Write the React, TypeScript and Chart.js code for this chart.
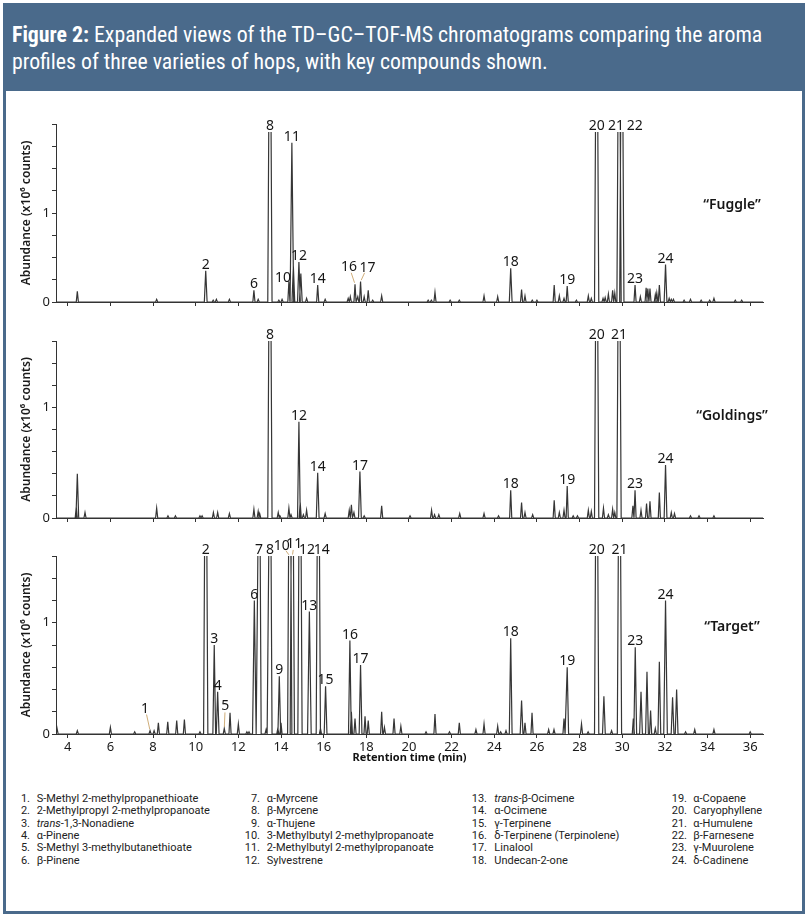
import React, { useEffect, useRef } from 'react';
import { Chart, registerables } from 'chart.js';

Chart.register(...registerables);

// ---------------- DATA ----------------
const X_MIN = 3.45;
const X_MAX = 36.6;
const xTickValues = [4, 6, 8, 10, 12, 14, 16, 18, 20, 22, 24, 26, 28, 30, 32, 34, 36];

// "Fuggle" — retention time (min) and abundance (x10^6 counts)
const fuggleRt = [4.45, 8.17, 10.47, 10.82, 10.97, 11.58, 12.73, 12.93, 13.48, 13.9, 14.05, 14.37, 14.51, 14.58, 14.84, 14.93, 15.2, 15.72, 16.07, 17.15, 17.25, 17.47, 17.6, 17.73, 17.9, 18.09, 18.3, 18.72,
  20.9, 21.05, 21.22, 21.93, 22.36, 23.52, 24.16, 24.77, 25.28, 25.44, 25.78, 26.0, 26.81, 27.05, 27.27, 27.42, 27.85, 28.41, 28.55, 28.8, 29.1, 29.2, 29.35, 29.55, 29.65, 29.85, 29.98, 30.6, 30.85, 31.12, 31.2, 31.3, 31.55, 31.62, 31.74, 32.03, 32.2, 32.3, 32.4, 32.9, 33.2, 33.7, 34.1, 34.3, 35.3, 35.6];
const fuggleHeight = [0.12, 0.03, 0.35, 0.02, 0.03, 0.03, 0.13, 0.03, 2.5, 0.02, 0.03, 0.23, 1.79, 0.4, 0.45, 0.32, 0.04, 0.19, 0.03, 0.04, 0.06, 0.2, 0.06, 0.23, 0.06, 0.13, 0.02, 0.07,
  0.02, 0.02, 0.11, 0.02, 0.02, 0.07, 0.06, 0.38, 0.14, 0.07, 0.02, 0.02, 0.19, 0.07, 0.04, 0.18, 0.02, 0.07, 0.04, 2.5, 0.04, 0.05, 0.09, 0.13, 0.1, 2.5, 2.5, 0.19, 0.06, 0.16, 0.15, 0.15, 0.08, 0.1, 0.19, 0.42, 0.04, 0.03, 0.03, 0.02, 0.03, 0.02, 0.02, 0.04, 0.02, 0.02];
const fuggleLabelIds = ['2', '6', '8', '10', '11', '12', '14', '16', '17', '18', '19', '20', '21', '22', '23', '24'];
const fuggleLabelRt = [10.47, 12.73, 13.48, 14.37, 14.51, 14.84, 15.72, 17.47, 17.73, 24.77, 27.42, 28.8, 29.85, 29.98, 30.6, 32.03];

// "Goldings"
const goldingsRt = [4.4, 4.45, 4.81, 8.17, 8.7, 9.05, 10.2, 10.3, 10.83, 11.03, 11.58, 12.73, 12.93, 13.0, 13.48, 13.87, 13.95, 14.37, 14.47, 14.84, 14.9, 15.05, 15.2, 15.72, 16.07, 17.2, 17.3, 17.42, 17.7, 17.9, 18.72,
  20.05, 21.06, 21.2, 21.4, 22.38, 23.52, 24.2, 24.77, 25.28, 25.44, 25.8, 26.81, 27.05, 27.27, 27.42, 27.7, 27.9, 28.41, 28.55, 28.8, 29.12, 29.35, 29.55, 29.65, 29.85, 30.5, 30.6, 30.88, 31.14, 31.3, 31.74, 32.03, 32.3, 32.45, 33.2, 33.6, 34.3];
const goldingsHeight = [0.1, 0.4, 0.05, 0.09, 0.02, 0.02, 0.02, 0.02, 0.05, 0.05, 0.04, 0.08, 0.06, 0.04, 2.5, 0.05, 0.02, 0.09, 0.03, 0.87, 0.14, 0.03, 0.07, 0.41, 0.04, 0.07, 0.12, 0.05, 0.42, 0.02, 0.11,
  0.02, 0.07, 0.03, 0.03, 0.04, 0.04, 0.02, 0.25, 0.14, 0.05, 0.03, 0.16, 0.05, 0.07, 0.29, 0.02, 0.02, 0.07, 0.06, 2.5, 0.09, 0.03, 0.08, 0.05, 2.5, 0.11, 0.25, 0.07, 0.13, 0.15, 0.23, 0.48, 0.05, 0.04, 0.02, 0.02, 0.02];
const goldingsLabelIds = ['8', '12', '14', '17', '18', '19', '20', '21', '23', '24'];
const goldingsLabelRt = [13.48, 14.84, 15.72, 17.7, 24.77, 27.42, 28.8, 29.85, 30.6, 32.03];

// "Target"
const targetRt = [3.5, 4.45, 6.0, 7.14, 7.86, 8.05, 8.25, 8.69, 9.11, 9.47, 10.2, 10.47, 10.87, 11.03, 11.34, 11.61, 12.0, 12.4, 12.5, 12.75, 12.97, 13.3, 13.48, 13.85, 13.92, 14.0, 14.41, 14.53, 14.89, 15.33, 15.75, 15.85, 16.09, 17.23, 17.3, 17.47, 17.73, 17.94, 18.09, 18.72, 18.85, 19.3, 19.62,
  20.8, 21.22, 21.9, 22.36, 23.14, 23.52, 24.16, 24.3, 24.55, 24.77, 25.28, 25.44, 25.77, 26.55, 26.8, 27.27, 27.42, 28.09, 28.4, 28.8, 29.14, 29.5, 29.87, 30.52, 30.61, 30.88, 31.16, 31.33, 31.55, 31.74, 32.03, 32.36, 32.55, 32.97, 33.4, 34.3, 36.0];
const targetHeight = [0.05, 0.03, 0.06, 0.02, 0.03, 0.03, 0.1, 0.11, 0.12, 0.13, 0.02, 2.5, 0.8, 0.38, 0.05, 0.19, 0.09, 0.02, 0.02, 1.2, 2.5, 0.04, 2.5, 0.05, 0.52, 0.1, 2.5, 2.5, 2.5, 1.1, 2.5, 0.05, 0.43, 0.84, 0.2, 0.14, 0.62, 0.16, 0.12, 0.2, 0.06, 0.14, 0.07,
  0.02, 0.18, 0.02, 0.1, 0.04, 0.09, 0.07, 0.02, 0.03, 0.86, 0.3, 0.1, 0.19, 0.04, 0.04, 0.14, 0.6, 0.09, 0.02, 2.5, 0.34, 0.03, 2.5, 0.14, 0.78, 0.38, 0.56, 0.21, 0.05, 0.65, 1.2, 0.33, 0.4, 0.02, 0.04, 0.04, 0.02];
const targetLabelIds = ['1', '2', '3', '4', '5', '6', '7', '8', '9', '10', '11', '12', '13', '14', '15', '16', '17', '18', '19', '20', '21', '23', '24'];
const targetLabelRt = [7.86, 10.47, 10.87, 11.03, 11.34, 12.75, 12.97, 13.48, 13.92, 14.41, 14.53, 14.89, 15.33, 15.75, 16.09, 17.23, 17.73, 24.77, 27.42, 28.8, 29.87, 30.61, 32.03];

const compoundNames = [
  'S-Methyl 2-methylpropanethioate', '2-Methylpropyl 2-methylpropanoate', 'trans-1,3-Nonadiene', 'α-Pinene', 'S-Methyl 3-methylbutanethioate', 'β-Pinene',
  'α-Myrcene', 'β-Myrcene', 'α-Thujene', '3-Methylbutyl 2-methylpropanoate', '2-Methylbutyl 2-methylpropanoate', 'Sylvestrene',
  'trans-β-Ocimene', 'α-Ocimene', 'γ-Terpinene', 'δ-Terpinene (Terpinolene)', 'Linalool', 'Undecan-2-one',
  'α-Copaene', 'Caryophyllene', 'α-Humulene', 'β-Farnesene', 'γ-Muurolene', 'δ-Cadinene',
];

// ---------------- STYLE ----------------
const BLUE = '#4a6a8b';
const FONT = '"Noto Sans", "DejaVu Sans", sans-serif';
const LINE = '#363636';
const LEADER = '#c9a46a';

Chart.defaults.font.family = FONT;

function buildTrace(rt: number[], h: number[], clip: number) {
  const pts: { x: number; y: number | null }[] = [{ x: X_MIN, y: 0 }];
  const order = rt.map((_, i) => i).sort((a, b) => rt[a] - rt[b]);
  for (const i of order) {
    const t = rt[i];
    const v = h[i];
    if (v >= clip) {
      pts.push({ x: t - 0.1, y: 0 }, { x: t - 0.055, y: clip }, { x: t, y: null }, { x: t + 0.055, y: clip }, { x: t + 0.1, y: 0 });
    } else {
      const w = v >= 1 ? 0.085 : v >= 0.3 ? 0.065 : 0.05;
      pts.push({ x: t - w, y: 0 }, { x: t, y: v }, { x: t + w, y: 0 });
    }
  }
  pts.push({ x: X_MAX, y: 0 });
  return pts;
}

const peakLabelPlugin = {
  id: 'peakLabels',
  afterDatasetsDraw(chart: any, _args: any, opts: any) {
    const { ctx, scales, chartArea } = chart;
    const xs = scales.x;
    const ys = scales.y;
    ctx.save();
    ctx.font = `14px ${FONT}`;
    ctx.fillStyle = '#161616';
    ctx.textAlign = 'center';
    ctx.textBaseline = 'alphabetic';
    opts.ids.forEach((id: string, k: number) => {
      const t = opts.labelRt[k];
      const idx = opts.rt.findIndex((r: number) => Math.abs(r - t) < 1e-6);
      const h = idx >= 0 ? opts.height[idx] : 0;
      const px = xs.getPixelForValue(t);
      const top = ys.getPixelForValue(Math.min(h, opts.clip));
      const n = opts.nudge[id] || [0, 0, 0];
      const lx = px + n[0];
      const ly = top - 2 + n[1];
      ctx.fillText(id, lx, ly);
      if (n[2]) {
        const cx = lx, cy = ly - 5;
        const dx = px - cx, dy = top - cy;
        const len = Math.hypot(dx, dy) || 1;
        const ux = dx / len, uy = dy / len;
        ctx.beginPath();
        ctx.strokeStyle = LEADER;
        ctx.lineWidth = 0.9;
        ctx.moveTo(cx + ux * 7, cy + uy * 7);
        ctx.lineTo(px - ux * 1.5, top - uy * 1.5);
        ctx.stroke();
      }
    });
    ctx.font = `600 14px ${FONT}`;
    ctx.textBaseline = 'middle';
    ctx.fillStyle = '#161616';
    ctx.fillText(opts.name, chartArea.right - 31, ys.getPixelForValue(opts.nameY));
    ctx.restore();
  },
};

type PanelProps = {
  rt: number[]; height: number[]; ids: string[]; labelRt: number[];
  name: string; nameY: number; yMax: number; step: number; clip: number;
  top: number; canvasH: number; padTop: number; padBottom: number; xH: number;
  showX: boolean; nudge: Record<string, number[]>;
};

function Panel(p: PanelProps) {
  const ref = useRef<HTMLCanvasElement | null>(null);
  useEffect(() => {
    if (!ref.current) return;
    const chart = new Chart(ref.current, {
      type: 'line',
      data: {
        datasets: [{
          data: buildTrace(p.rt, p.height, p.clip) as any,
          borderColor: LINE,
          borderWidth: 1.2,
          pointRadius: 0,
          tension: 0,
          fill: false,
          spanGaps: false,
        }],
      },
      plugins: [peakLabelPlugin],
      options: {
        animation: false,
        responsive: false,
        events: [],
        layout: { padding: { left: 15, right: 45, top: p.padTop, bottom: p.padBottom } },
        plugins: {
          legend: { display: false },
          tooltip: { enabled: false },
          peakLabels: {
            rt: p.rt, height: p.height, ids: p.ids, labelRt: p.labelRt,
            clip: p.clip, name: p.name, nameY: p.nameY, nudge: p.nudge,
          },
        } as any,
        scales: {
          x: {
            type: 'linear',
            min: X_MIN,
            max: X_MAX,
            afterBuildTicks: (s: any) => { s.ticks = xTickValues.map((v) => ({ value: v })); },
            ticks: {
              autoSkip: false,
              maxRotation: 0,
              padding: 1,
              color: '#1a1a1a',
              font: { size: 13 },
              callback: (v: any) => (p.showX ? String(v) : ''),
            },
            grid: { drawOnChartArea: false, tickLength: 4, color: '#333', lineWidth: 1 },
            border: { display: true, color: '#333', width: 1 },
            title: {
              display: p.showX,
              text: 'Retention time (min)',
              color: '#111',
              font: { size: 11, weight: 'bold' },
              padding: { top: 2, bottom: 4 },
            },
            afterFit: (s: any) => { s.height = p.xH; },
          },
          y: {
            min: 0,
            max: p.yMax,
            ticks: {
              stepSize: p.step,
              autoSkip: false,
              padding: 2,
              color: '#1a1a1a',
              font: { size: 13 },
              callback: (v: any) => (Math.abs(v) < 1e-9 ? '0' : Math.abs(v - 1) < 1e-9 ? '1' : ''),
            },
            grid: { drawOnChartArea: false, tickLength: 4, color: '#333', lineWidth: 1 },
            border: { display: true, color: '#333', width: 1 },
            title: {
              display: true,
              text: 'Abundance (x10⁶ counts)',
              color: '#1a1a1a',
              font: { size: 12, weight: '600' },
              padding: { top: 4, bottom: 4 },
            },
            afterFit: (s: any) => { s.width = 41; },
          },
        },
      } as any,
    });
    return () => chart.destroy();
  }, []);
  return (
    <canvas
      ref={ref}
      width={808}
      height={p.canvasH}
      style={{ position: 'absolute', left: 0, top: p.top, width: 808, height: p.canvasH }}
    />
  );
}

function Compound({ name }: { name: string }) {
  if (name.startsWith('trans-')) {
    return (<span><i>trans</i>{name.slice(5)}</span>);
  }
  return <span>{name}</span>;
}

export default function App() {
  const colX = [[30, 36.7], [260, 266.7], [487, 494.3], [687, 693.3]];
  return (
    <div style={{ position: 'absolute', left: 0, top: 0, width: 808, height: 918, background: '#fff', overflow: 'hidden' }}>
      <div style={{ position: 'absolute', left: 3, top: 3, width: 802, height: 911, border: `3px solid ${BLUE}`, boxSizing: 'border-box' }} />
      <div style={{ position: 'absolute', left: 3, top: 3, width: 802, height: 88, background: BLUE }}>
        <div style={{ position: 'absolute', left: 9, top: 18, color: '#fff', fontFamily: '"Roboto Condensed", Roboto, sans-serif', fontSize: 21.8, lineHeight: '27px', whiteSpace: 'nowrap' }}>
          <b>Figure 2:</b> Expanded views of the TD–GC–TOF-MS chromatograms comparing the aroma<br />
          profiles of three varieties of hops, with key compounds shown.
        </div>
      </div>

      <Panel rt={fuggleRt} height={fuggleHeight} ids={fuggleLabelIds} labelRt={fuggleLabelRt}
        name={'“Fuggle”'} nameY={1.09} yMax={2} step={0.25} clip={1.91}
        top={100} canvasH={215} padTop={24} padBottom={5} xH={8} showX={false}
        nudge={{ '10': [-6, 2], '16': [-6, -11, 1], '17': [7, -8, 1], '21': [-3, 0], '22': [13, 0] }} />
      <Panel rt={goldingsRt} height={goldingsHeight} ids={goldingsLabelIds} labelRt={goldingsLabelRt}
        name={'“Goldings”'} nameY={0.92} yMax={1.6} step={0.2} clip={1.6}
        top={318} canvasH={212} padTop={23} padBottom={4} xH={8} showX={false}
        nudge={{}} />
      <Panel rt={targetRt} height={targetHeight} ids={targetLabelIds} labelRt={targetLabelRt}
        name={'“Target”'} nameY={0.96} yMax={1.6} step={0.2} clip={1.6}
        top={530} canvasH={240} padTop={26} padBottom={2} xH={34} showX={true}
        nudge={{ '1': [-5, -16, 1], '5': [1, -16, 1], '10': [-8, -4, 1], '11': [2, -6, 1], '12': [7, 0], '14': [3.5, 0] }} />

      <div style={{ position: 'absolute', left: 0, top: 792, width: 808, fontFamily: 'Roboto, sans-serif', fontSize: 11, color: '#222' }}>
        {compoundNames.map((nm, i) => {
          const col = Math.floor(i / 6);
          const row = i % 6;
          return (
            <div key={i} style={{ position: 'absolute', top: row * 12.3, left: 0, width: 808, height: 13, lineHeight: '13px', whiteSpace: 'nowrap' }}>
              <span style={{ position: 'absolute', right: 808 - colX[col][0] }}>{i + 1}.</span>
              <span style={{ position: 'absolute', left: colX[col][1] }}><Compound name={nm} /></span>
            </div>
          );
        })}
      </div>
    </div>
  );
}
